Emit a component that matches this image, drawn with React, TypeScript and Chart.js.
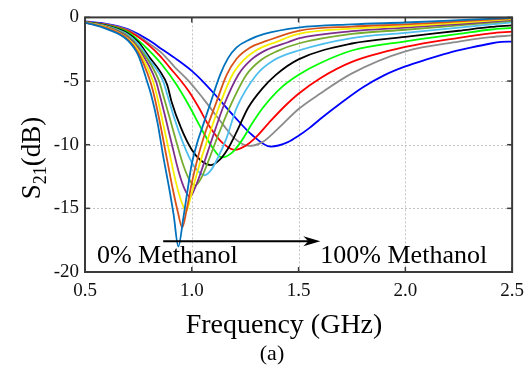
import React, { useEffect, useRef } from 'react';
import { Chart, registerables } from 'chart.js';

Chart.register(...registerables);

const FONT = '"Liberation Serif", "Times New Roman", serif';

// Axis ticks / grid
const xGrid = [1, 1.5, 2];
const yGrid = [-15, -10, -5];
const xTickVals = [0.5, 1, 1.5, 2, 2.5];
const yTickVals = [-20, -15, -10, -5, 0];

// Series colours (0% -> 100% methanol)
const colors = ['#0072BD', '#D95319', '#F7EE00', '#7E2F8E', '#77AC30', '#4DBEEE', '#000000', '#00FF00', '#FF0000', '#8C8C8C', '#0000FF'];

// Frequencies (GHz) and S21 (dB) for each curve
const f0 = [0.5, 0.6, 0.7, 0.75, 0.79, 0.81, 0.84, 0.865, 0.895, 0.915, 0.937, 0.96, 0.98, 1.0, 1.03, 1.05, 1.09, 1.133, 1.17, 1.21, 1.27, 1.34, 1.5, 1.75, 2.0, 2.25, 2.5];
const s0 = [-0.4, -0.9, -1.8, -3.0, -5.0, -6.1, -8.3, -10.8, -13.5, -15.5, -18.0, -15.8, -13.6, -11.5, -9.6, -8.6, -6.6, -4.5, -3.2, -2.35, -1.75, -1.3, -0.8, -0.55, -0.4, -0.22, -0.03];

const f1 = [0.5, 0.6, 0.7, 0.75, 0.805, 0.823, 0.85, 0.88, 0.91, 0.935, 0.955, 0.975, 1.0, 1.03, 1.06, 1.11, 1.164, 1.21, 1.27, 1.35, 1.5, 1.75, 2.0, 2.25, 2.5];
const s1 = [-0.4, -0.82, -1.72, -2.8, -5.0, -6.1, -8.2, -10.8, -13.4, -15.3, -16.5, -15.2, -13.0, -10.9, -9.2, -6.9, -4.5, -3.25, -2.4, -1.85, -1.05, -0.72, -0.55, -0.32, -0.08];

const f2 = [0.5, 0.6, 0.7, 0.75, 0.818, 0.836, 0.865, 0.895, 0.925, 0.952, 0.974, 0.995, 1.02, 1.05, 1.08, 1.128, 1.187, 1.24, 1.3, 1.4, 1.5, 1.75, 2.0, 2.25, 2.5];
const s2 = [-0.4, -0.78, -1.65, -2.6, -5.0, -6.1, -8.3, -10.6, -12.9, -14.5, -15.2, -14.1, -12.5, -10.8, -9.3, -7.0, -4.6, -3.4, -2.6, -1.9, -1.3, -0.88, -0.68, -0.42, -0.14];

const f3 = [0.5, 0.6, 0.7, 0.75, 0.832, 0.85, 0.88, 0.91, 0.94, 0.967, 0.992, 1.015, 1.04, 1.07, 1.1, 1.148, 1.218, 1.28, 1.35, 1.45, 1.5, 1.75, 2.0, 2.25, 2.5];
const s3 = [-0.4, -0.75, -1.55, -2.45, -5.0, -6.1, -8.1, -10.2, -12.2, -13.5, -14.1, -13.4, -12.3, -10.8, -9.3, -7.0, -4.5, -3.3, -2.55, -1.95, -1.65, -1.08, -0.8, -0.52, -0.2];

const f4 = [0.5, 0.6, 0.7, 0.75, 0.847, 0.866, 0.9, 0.93, 0.96, 0.99, 1.017, 1.045, 1.075, 1.12, 1.179, 1.256, 1.32, 1.4, 1.5, 1.75, 2.0, 2.25, 2.5];
const s4 = [-0.4, -0.72, -1.45, -2.3, -5.0, -6.1, -8.1, -9.9, -11.6, -12.8, -13.2, -12.6, -11.4, -9.4, -7.0, -4.5, -3.4, -2.65, -2.05, -1.3, -0.97, -0.62, -0.28];

const f5 = [0.5, 0.6, 0.7, 0.75, 0.8, 0.866, 0.884, 0.92, 0.96, 1.0, 1.03, 1.06, 1.09, 1.12, 1.16, 1.21, 1.303, 1.38, 1.5, 1.75, 2.0, 2.25, 2.5];
const s5 = [-0.38, -0.68, -1.35, -2.1, -3.3, -5.0, -6.0, -8.0, -9.9, -11.4, -12.1, -12.4, -12.0, -11.1, -9.6, -7.1, -4.5, -3.4, -2.6, -1.62, -1.22, -0.8, -0.38];

const f6 = [0.5, 0.6, 0.7, 0.75, 0.8, 0.85, 0.885, 0.905, 0.95, 1.0, 1.04, 1.09, 1.13, 1.17, 1.21, 1.264, 1.33, 1.395, 1.5, 1.75, 2.0, 2.25, 2.4, 2.5];
const s6 = [-0.38, -0.65, -1.25, -1.95, -3.1, -4.2, -5.3, -6.6, -8.7, -10.4, -11.2, -11.6, -11.2, -10.3, -9.0, -7.1, -5.6, -4.5, -3.3, -2.05, -1.53, -1.05, -0.75, -0.62];

const f7 = [0.5, 0.6, 0.7, 0.75, 0.8, 0.86, 0.925, 0.986, 1.05, 1.1, 1.14, 1.19, 1.233, 1.28, 1.333, 1.42, 1.511, 1.6, 1.75, 2.0, 2.25, 2.4, 2.5];
const s7 = [-0.37, -0.62, -1.15, -1.8, -2.6, -3.7, -5.2, -6.9, -8.9, -10.3, -11.0, -10.6, -9.7, -8.4, -7.1, -5.5, -4.4, -3.6, -2.6, -1.88, -1.3, -0.95, -0.82];

const f8 = [0.5, 0.6, 0.7, 0.75, 0.8, 0.85, 0.9, 0.95, 0.986, 1.03, 1.08, 1.14, 1.202, 1.25, 1.295, 1.36, 1.434, 1.5, 1.6, 1.75, 2.0, 2.25, 2.4, 2.5];
const s8 = [-0.36, -0.58, -1.05, -1.55, -2.2, -3.0, -4.0, -5.0, -5.8, -7.0, -8.5, -9.8, -10.4, -10.1, -9.5, -8.3, -7.0, -6.0, -4.8, -3.5, -2.32, -1.6, -1.25, -1.12];

const f9 = [0.5, 0.6, 0.7, 0.75, 0.8, 0.86, 0.92, 0.986, 1.05, 1.1, 1.15, 1.2, 1.268, 1.33, 1.4, 1.5, 1.6, 1.75, 2.0, 2.25, 2.4, 2.5];
const s9 = [-0.35, -0.55, -0.98, -1.45, -2.05, -2.8, -3.9, -5.0, -6.3, -7.4, -8.5, -9.5, -10.1, -9.8, -8.8, -7.2, -6.0, -4.4, -2.67, -1.9, -1.55, -1.42];

const f10 = [0.5, 0.6, 0.7, 0.8, 0.86, 0.93, 1.0, 1.05, 1.1, 1.2, 1.28, 1.37, 1.45, 1.5, 1.55, 1.6, 1.7, 1.8, 1.9, 2.0, 2.1, 2.2, 2.3, 2.4, 2.45, 2.5];
const s10 = [-0.32, -0.5, -0.92, -1.8, -2.5, -3.3, -4.2, -5.0, -5.9, -7.8, -9.2, -10.15, -9.8, -9.3, -8.7, -8.0, -6.7, -5.5, -4.55, -3.85, -3.3, -2.8, -2.4, -2.05, -1.93, -1.9];

const seriesF = [f0, f1, f2, f3, f4, f5, f6, f7, f8, f9, f10];
const seriesS = [s0, s1, s2, s3, s4, s5, s6, s7, s8, s9, s10];

// Annotation anchors (data coords)
const arrowStart = { x: 0.866, y: -17.58 };
const arrowEnd = { x: 1.602, y: -17.58 };
const labelLeft = { x: 0.556, y: -19.3, text: '0% Methanol' };
const labelRight = { x: 1.602, y: -19.3, text: '100% Methanol' };

const decor = {
  id: 'decor',
  beforeDatasetsDraw(chart: any) {
    const { ctx, chartArea: a, scales } = chart;
    const x = scales.x, y = scales.y;
    ctx.save();
    ctx.strokeStyle = '#c2c2c2';
    ctx.lineWidth = 1;
    ctx.setLineDash([2, 2]);
    for (const v of xGrid) {
      const px = Math.round(x.getPixelForValue(v)) + 0.5;
      ctx.beginPath(); ctx.moveTo(px, a.top); ctx.lineTo(px, a.bottom); ctx.stroke();
    }
    for (const v of yGrid) {
      const py = Math.round(y.getPixelForValue(v)) + 0.5;
      ctx.beginPath(); ctx.moveTo(a.left, py); ctx.lineTo(a.right, py); ctx.stroke();
    }
    ctx.restore();
  },
  afterDatasetsDraw(chart: any) {
    const { ctx, chartArea: a, scales } = chart;
    const x = scales.x, y = scales.y;
    ctx.save();
    // inward ticks
    ctx.strokeStyle = '#3a3a3a';
    ctx.lineWidth = 1.5;
    const tl = 5;
    for (const v of xTickVals) {
      const px = x.getPixelForValue(v);
      ctx.beginPath(); ctx.moveTo(px, a.top); ctx.lineTo(px, a.top + tl); ctx.stroke();
      ctx.beginPath(); ctx.moveTo(px, a.bottom); ctx.lineTo(px, a.bottom - tl); ctx.stroke();
    }
    for (const v of yTickVals) {
      const py = y.getPixelForValue(v);
      ctx.beginPath(); ctx.moveTo(a.left, py); ctx.lineTo(a.left + tl, py); ctx.stroke();
      ctx.beginPath(); ctx.moveTo(a.right, py); ctx.lineTo(a.right - tl, py); ctx.stroke();
    }
    // frame
    ctx.lineWidth = 2;
    ctx.strokeRect(a.left, a.top, a.right - a.left, a.bottom - a.top);

    // arrow
    const ax0 = x.getPixelForValue(arrowStart.x), ay = y.getPixelForValue(arrowStart.y);
    const ax1 = x.getPixelForValue(arrowEnd.x);
    ctx.strokeStyle = '#000';
    ctx.fillStyle = '#000';
    ctx.lineWidth = 2;
    ctx.beginPath(); ctx.moveTo(ax0, ay); ctx.lineTo(ax1 - 10, ay); ctx.stroke();
    ctx.beginPath();
    ctx.moveTo(ax1, ay);
    ctx.lineTo(ax1 - 17, ay - 5);
    ctx.lineTo(ax1 - 12, ay);
    ctx.lineTo(ax1 - 17, ay + 5);
    ctx.closePath(); ctx.fill();

    // labels
    ctx.font = `26px ${FONT}`;
    ctx.textBaseline = 'alphabetic';
    ctx.textAlign = 'left';
    ctx.fillText(labelLeft.text, x.getPixelForValue(labelLeft.x), y.getPixelForValue(labelLeft.y));
    ctx.fillText(labelRight.text, x.getPixelForValue(labelRight.x), y.getPixelForValue(labelRight.y));

    // x title
    ctx.textAlign = 'center';
    ctx.font = `28px ${FONT}`;
    ctx.fillText('Frequency (GHz)', 284, 333);
    ctx.font = `22px ${FONT}`;
    ctx.fillText('(a)', 272, 360);

    // y title with subscript, rotated
    ctx.translate(40, 158);
    ctx.rotate(-Math.PI / 2);
    ctx.textAlign = 'left';
    ctx.font = `27px ${FONT}`;
    const wS = ctx.measureText('S').width;
    ctx.font = `18px ${FONT}`;
    const wSub = ctx.measureText('21').width;
    ctx.font = `27px ${FONT}`;
    const wRest = ctx.measureText('(dB)').width;
    const total = wS + wSub + wRest;
    let tx = -total / 2;
    ctx.fillText('S', tx, 0);
    tx += wS;
    ctx.font = `18px ${FONT}`;
    ctx.fillText('21', tx, 6);
    tx += wSub;
    ctx.font = `27px ${FONT}`;
    ctx.fillText('(dB)', tx, 0);
    ctx.restore();
  },
};

export default function App() {
  const ref = useRef<HTMLCanvasElement>(null);
  useEffect(() => {
    const datasets = seriesF.map((fs, i) => ({
      data: fs.map((f, j) => ({ x: f, y: seriesS[i][j] })),
      borderColor: colors[i],
      backgroundColor: colors[i],
      borderWidth: 1.8,
      showLine: true,
      pointRadius: 0,
      cubicInterpolationMode: 'monotone' as const,
      fill: false,
    }));
    const chart = new Chart(ref.current as HTMLCanvasElement, {
      type: 'scatter',
      data: { datasets },
      options: {
        responsive: false,
        animation: false,
        devicePixelRatio: 1,
        events: [],
        layout: { padding: { top: 16, right: 15, left: 0, bottom: 0 } },
        plugins: { legend: { display: false }, tooltip: { enabled: false } },
        scales: {
          x: {
            type: 'linear',
            min: 0.5,
            max: 2.5,
            grid: { display: false, drawTicks: false },
            border: { display: false },
            ticks: { stepSize: 0.5, font: { family: FONT, size: 19 }, color: '#111', padding: 8, maxRotation: 0 },
            afterFit: (s: any) => { s.height = 101; },
          },
          y: {
            type: 'linear',
            min: -20,
            max: 0,
            grid: { display: false, drawTicks: false },
            border: { display: false },
            ticks: { stepSize: 5, font: { family: FONT, size: 19 }, color: '#111', padding: 6 },
            afterFit: (s: any) => { s.width = 85; },
          },
        },
      },
      plugins: [decor],
    });
    return () => chart.destroy();
  }, []);
  return (
    <div style={{ position: 'fixed', left: 0, top: 0, width: 532, height: 373, background: '#fff' }}>
      <canvas ref={ref} width={532} height={373} style={{ display: 'block', width: 532, height: 373 }} />
    </div>
  );
}
